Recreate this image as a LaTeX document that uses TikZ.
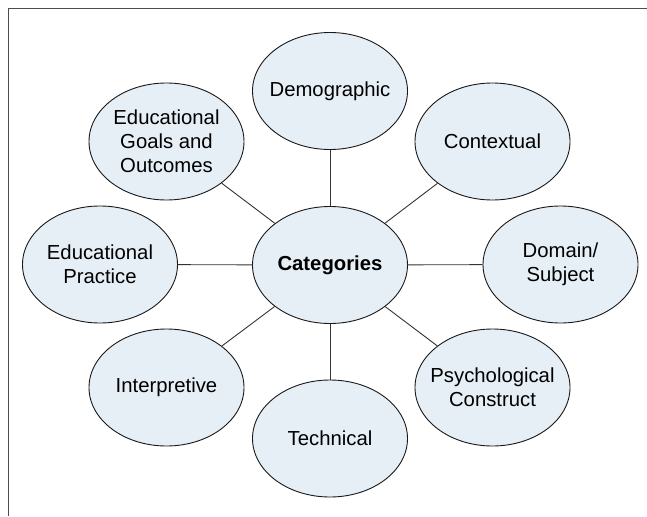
\documentclass[tikz,border=0pt]{standalone}
\usepackage{fontspec}
\setmainfont{Liberation Sans}
\usetikzlibrary{shapes.geometric}
\definecolor{bubfill}{RGB}{231,239,246}
\begin{document}
\begin{tikzpicture}[x=1pt,y=-1pt,
  bub/.style={ellipse,draw=black!90,line width=0.9pt,fill=bubfill,
    minimum width=155pt,minimum height=117pt,inner xsep=-15pt,inner ysep=0pt,
    align=center,font=\fontsize{20.3}{24}\selectfont},
  conn/.style={draw=black!80,line width=0.9pt},
  frame/.style={draw=black!70,line width=0.9pt}]
\useasboundingbox (0,0) rectangle (647,516);
\coordinate (fbl) at (8,516);
\coordinate (ftl) at (8,8);
\coordinate (ftr) at (647,8);
\draw[frame] (fbl) -- (ftl) -- (ftr);
\node[bub] (cat) at (330,265) {\bfseries Categories};
\node[bub] (demo) at (330,91) {Demographic};
\node[bub] (ctx) at (492.5,141.5) {Contextual};
\node[bub] (dom) at (560.5,264.5) {Domain/\\Subject};
\node[bub] (psy) at (492.5,387.5) {Psychological\\Construct};
\node[bub] (tech) at (330,438.5) {Technical};
\node[bub] (interp) at (166.5,387.5) {Interpretive};
\node[bub] (prac) at (100,264.5) {Educational\\Practice};
\node[bub] (goals) at (166.5,141.5) {Educational\\Goals and\\Outcomes};
\foreach \n in {demo,ctx,dom,psy,tech,interp,prac,goals}
  \draw[conn] (cat) -- (\n);
\end{tikzpicture}
\end{document}
